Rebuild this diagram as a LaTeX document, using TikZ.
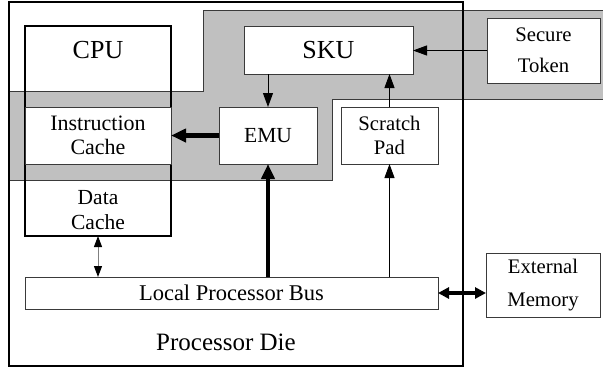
\documentclass[tikz,border=0pt]{standalone}
\usepackage{fontspec}
\setmainfont{Liberation Serif}
\newfontfamily\tnr{Liberation Serif}
\usetikzlibrary{arrows.meta}
\definecolor{bandgray}{HTML}{C0C0C0}
\definecolor{edgegray}{HTML}{3A3A3A}
\tikzset{
  box/.style={draw=edgegray, line width=1pt, fill=white, inner sep=0pt, outer sep=0pt, align=center,
    font=\tnr\fontsize{21.5}{24}\selectfont},
  smallbox/.style={box, font=\tnr\fontsize{20.7}{31}\selectfont},
  bigtext/.style={inner sep=0pt, font=\tnr\fontsize{25}{28}\selectfont},
  midtext/.style={inner sep=0pt, align=center, font=\tnr\fontsize{21.5}{25}\selectfont},
  outerbox/.style={draw=black, line width=1.5pt, inner sep=0pt, outer sep=0pt},
  thinarrow/.style={line width=1pt, -{Triangle[length=14pt,width=10pt]}},
  thickarrow/.style={line width=4.5pt, -{Triangle[length=15pt,width=13pt]}},
  thinboth/.style={line width=1pt, draw=gray, {Triangle[length=11pt,width=8pt,color=black]}-{Triangle[length=11pt,width=8pt,color=black]}},
  thickboth/.style={line width=4.5pt, {Triangle[length=11pt,width=11pt]}-{Triangle[length=11pt,width=11pt]}},
}
\begin{document}
\begin{tikzpicture}[x=1pt,y=-1pt]
\useasboundingbox (0,0) rectangle (603,368);
% gray band
\draw[fill=bandgray, draw=edgegray, line width=0.8pt]
  (9,91) -- (203,91) -- (203,10) -- (610,10) -- (610,99) -- (332,99) -- (332,180) -- (9,180) -- cycle;
% processor die
\node[outerbox, minimum width=454pt, minimum height=364pt] (die) at (236,184) {};
\node[bigtext] (dielabel) at (226,342) {Processor Die};
% CPU
\node[outerbox, line width=1.3pt, minimum width=146pt, minimum height=210pt] (cpu) at (98,131) {};
\node[bigtext, font=\tnr\fontsize{26}{28}\selectfont] (cpulabel) at (98,50) {CPU};
\node[box, font=\tnr\fontsize{22}{23.7}\selectfont, minimum width=146pt, minimum height=57pt] (icache) at (98,135.5) {Instruction\\Cache};
\node[midtext] (dcache) at (98,210) {Data\\Cache};
% SKU etc.
\node[box, font=\tnr\fontsize{26}{28}\selectfont, minimum width=169pt, minimum height=48pt] (sku) at (328.5,50) {SKU};
\node[smallbox, minimum width=113pt, minimum height=65pt] (token) at (543.5,50.5) {Secure\\Token};
\node[box, minimum width=98pt, minimum height=57pt] (emu) at (268,135.5) {EMU};
\node[box, font=\tnr\fontsize{20.7}{23.7}\selectfont, minimum width=97pt, minimum height=57pt] (pad) at (389.5,135.5) {Scratch\\Pad};
\node[box, font=\tnr\fontsize{22.5}{25}\selectfont, minimum width=413pt, minimum height=32pt] (bus) at (231.5,293) {Local Processor Bus};
\node[smallbox, font=\tnr\fontsize{20.7}{33}\selectfont, minimum width=114pt, minimum height=64pt] (ext) at (543,285) {External\\Memory};
% connectors
\draw[thinarrow] (token.west) -- (token.west -| sku.east);
\draw[thinarrow] (emu.north |- sku.south) -- (emu.north);
\draw[thinarrow] (pad.north) -- (pad.north |- sku.south);
\draw[thickarrow] (emu.west) -- (emu.west -| icache.east);
\draw[thickarrow] (emu.south |- bus.north) -- (emu.south);
\draw[thinarrow] (pad.south |- bus.north) -- (pad.south);
\draw[thinboth] (cpu.south) -- (cpu.south |- bus.north);
\draw[thickboth] (bus.east) -- (bus.east -| ext.west);
\end{tikzpicture}
\end{document}
